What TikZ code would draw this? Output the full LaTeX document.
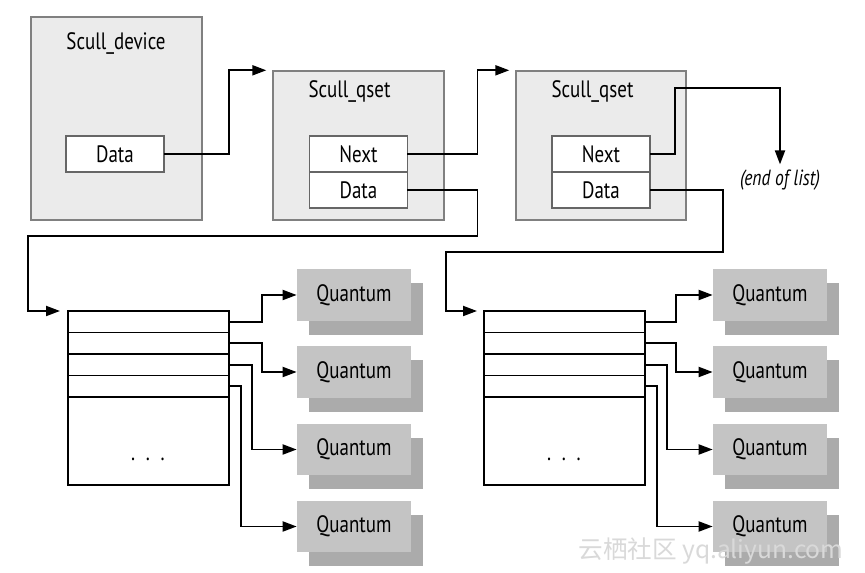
\documentclass[tikz,border=0pt]{standalone}
\usepackage{fontspec}
\setsansfont{PT Sans}[FakeStretch=0.8]
\newfontfamily\cjkfont{Noto Sans CJK SC}
\usepackage{tikz}
\usetikzlibrary{positioning}
\usetikzlibrary{arrows.meta}
\usetikzlibrary{shadows}

\begin{document}
\begin{tikzpicture}[
    x=0.02cm, y=-0.02cm,
    font=\sffamily\fontsize{13.5}{16}\selectfont,
    % grey container boxes and their white fields
    outer/.style={rectangle, draw=black!50, fill=black!8, line width=0.8pt, inner sep=0pt},
    field/.style={rectangle, draw=black!60, fill=white, line width=0.9pt, minimum width=1.96cm, minimum height=0.72cm, inner sep=0pt, outer sep=0pt},
    title/.style={anchor=base, inner sep=0pt},
    % quantum-set table and quantum blocks
    row/.style={rectangle, draw, fill=white, line width=1.1pt, minimum width=3.22cm, minimum height=0.43cm, inner sep=0pt, outer sep=0pt},
    quant/.style={rectangle, fill=black!23, minimum width=2.28cm, minimum height=1.04cm, inner sep=0pt,
        drop shadow={shadow xshift=0.24cm, shadow yshift=-0.28cm, fill=black!33, opacity=1}},
    link/.style={draw, line width=1.1pt, -{Triangle[length=0.28cm, width=0.2cm]}},
]
\path[fill=white] (0,0) rectangle (865,573);
\useasboundingbox (0,0) rectangle (865,573);

% =========================================================
% Top row: device and the two qsets
% =========================================================
\node[outer, minimum width=3.42cm, minimum height=4.06cm] (device) at (116.5,118.5) {};
\node[title] (devtitle) at (116,50) {Scull\_device};
\node[field] (devdata) at (115,154) {Data};

\node[outer, minimum width=3.42cm, minimum height=2.98cm] (qsetA) at (358.5,145.5) {};
\node[title] (qtitleA) at (349.5,98) {Scull\_qset};
\node[field] (nextA) at (358.5,154) {Next};
\node[field, below=0pt of nextA] (dataA) {Data};

\node[outer, minimum width=3.4cm, minimum height=2.98cm] (qsetB) at (601,145.5) {};
\node[title] (qtitleB) at (592.5,98) {Scull\_qset};
\node[field] (nextB) at (601,154) {Next};
\node[field, below=0pt of nextB] (dataB) {Data};

\node[inner sep=0pt, font=\sffamily\itshape\fontsize{12.5}{15}\selectfont] (endlist) at (780,180) {(end of list)};

% links between the top boxes
\draw[link, shorten >=0.12cm] (devdata.east) -- ++(65,0) |- (qsetA.north west);
\draw[link, shorten >=0.12cm] (nextA.east) -- ++(70,0) |- (qsetB.north west);
\draw[link, shorten >=0.1cm] (nextB.east) -- ++(25,0) -- ++(0,-66) -| (endlist.north);

% =========================================================
% Left panel: quantum set of the first qset
% =========================================================
\begin{scope}[shift={(0,0)}]
\node[row, anchor=north west] (rowL1) at (68,311) {};
\node[row, below=0pt of rowL1] (rowL2) {};
\node[row, below=0pt of rowL2] (rowL3) {};
\node[row, below=0pt of rowL3] (rowL4) {};
\node[row, below=0pt of rowL4, minimum height=1.76cm] (restL) {};
\node (dotsL) at (148,459) {.\hspace{0.45em}.\hspace{0.45em}.};

\node[quant] (quantL1) at (354,295) {Quantum};
\node[quant] (quantL2) at (354,372) {Quantum};
\node[quant] (quantL3) at (354,449.5) {Quantum};
\node[quant] (quantL4) at (354,526.5) {Quantum};

\draw[link] (rowL1.east) -- ++(33,0) |- (quantL1.west);
\draw[link] (rowL2.east) -- ++(33,0) |- (quantL2.west);
\draw[link] (rowL3.east) -- ++(23,0) |- (quantL3.west);
\draw[link] (rowL4.east) -- ++(12,0) |- (quantL4.west);
\end{scope}

% =========================================================
% Right panel: quantum set of the second qset
% =========================================================
\begin{scope}[shift={(416,0)}]
\node[row, anchor=north west] (rowR1) at (68,311) {};
\node[row, below=0pt of rowR1] (rowR2) {};
\node[row, below=0pt of rowR2] (rowR3) {};
\node[row, below=0pt of rowR3] (rowR4) {};
\node[row, below=0pt of rowR4, minimum height=1.76cm] (restR) {};
\node (dotsR) at (148,459) {.\hspace{0.45em}.\hspace{0.45em}.};

\node[quant] (quantR1) at (354,295) {Quantum};
\node[quant] (quantR2) at (354,372) {Quantum};
\node[quant] (quantR3) at (354,449.5) {Quantum};
\node[quant] (quantR4) at (354,526.5) {Quantum};

\draw[link] (rowR1.east) -- ++(31,0) |- (quantR1.west);
\draw[link] (rowR2.east) -- ++(31,0) |- (quantR2.west);
\draw[link] (rowR3.east) -- ++(22,0) |- (quantR3.west);
\draw[link] (rowR4.east) -- ++(12,0) |- (quantR4.west);
\end{scope}

% data pointers down into the quantum sets
\draw[link, shorten >=0.16cm] (dataA.east) -- ++(70,0) -- ++(0,46) -| ([xshift=-0.8cm]rowL1.north west) -- (rowL1.north west);
\draw[link, shorten >=0.14cm] (dataB.east) -- ++(73,0) -- ++(0,62) -| ([xshift=-0.76cm]rowR1.north west) -- (rowR1.north west);

\node[text=black!15, inner sep=0pt, font=\cjkfont\fontsize{14}{16}\selectfont] (mark) at (711,551) {云栖社区 yq.aliyun.com};
\end{tikzpicture}
\end{document}
